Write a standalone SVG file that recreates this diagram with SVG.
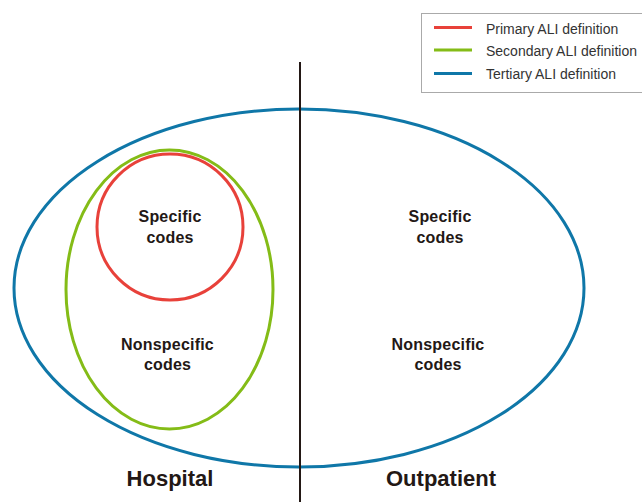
<svg xmlns="http://www.w3.org/2000/svg" width="642" height="502" viewBox="0 0 642 502">
<style>
.lbl{font-family:"Liberation Sans",Arial,sans-serif;font-weight:bold;font-size:16px;letter-spacing:0.2px;fill:#231815;text-anchor:middle}
.big{font-family:"Liberation Sans",Arial,sans-serif;font-weight:bold;font-size:22px;fill:#231815;text-anchor:middle}
.leg{font-family:"Liberation Sans",Arial,sans-serif;font-size:14px;fill:#333}
.shape{fill:none;stroke-width:3}
</style>
<rect width="642" height="502" fill="#fff"/>
<g id="tertiary"><ellipse class="shape" cx="299" cy="288" rx="285" ry="179" stroke="#0f77a8"/></g>
<g id="secondary"><ellipse class="shape" cx="169.5" cy="289.5" rx="103.5" ry="139.5" stroke="#84bc17"/></g>
<g id="primary"><circle class="shape" cx="170" cy="227" r="73" stroke="#e8413a"/></g>
<g id="connectors"><line x1="300" y1="62" x2="300" y2="502" stroke="#231815" stroke-width="2"/></g>
<g id="labels">
<text class="lbl" x="170" y="222">Specific</text>
<text class="lbl" x="170" y="243">codes</text>
<text class="lbl" x="167.5" y="350">Nonspecific</text>
<text class="lbl" x="167.5" y="370">codes</text>
<text class="lbl" x="440" y="222">Specific</text>
<text class="lbl" x="440" y="243">codes</text>
<text class="lbl" x="438" y="350">Nonspecific</text>
<text class="lbl" x="438" y="370">codes</text>
<text class="big" x="170" y="486">Hospital</text>
<text class="big" x="441" y="486">Outpatient</text>
</g>
<g id="legend">
<rect x="421.5" y="13.5" width="225" height="79" fill="#fff" stroke="#aaa" stroke-width="1"/>
<line x1="434" y1="27.5" x2="472" y2="27.5" stroke="#e8413a" stroke-width="3"/>
<line x1="434" y1="50" x2="472" y2="50" stroke="#84bc17" stroke-width="3"/>
<line x1="434" y1="73.5" x2="472" y2="73.5" stroke="#0f77a8" stroke-width="3"/>
<text class="leg" x="486" y="34">Primary ALI definition</text>
<text class="leg" x="486" y="56">Secondary ALI definition</text>
<text class="leg" x="486" y="79">Tertiary ALI definition</text>
</g>
</svg>
